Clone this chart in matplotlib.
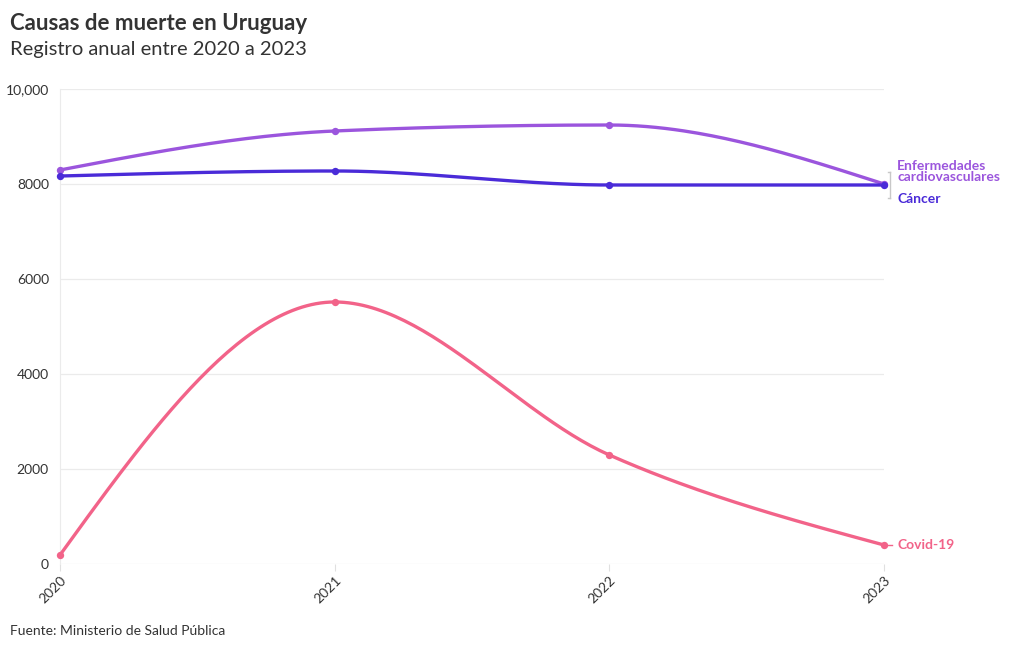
import numpy as np
import matplotlib
matplotlib.use("Agg")
import matplotlib.pyplot as plt

years = [2020, 2021, 2022, 2023]
cardio = [8295, 9116, 9242, 8000]
cancer = [8168, 8274, 7979, 7979]
covid = [189, 5516, 2295, 400]
series_names = ["Enfermedades\ncardiovasculares", "Cáncer", "Covid-19"]
colors = ["#9b55dd", "#4a2bd8", "#f26389"]
yticks = [0, 2000, 4000, 6000, 8000, 10000]
ytick_labels = ["0", "2000", "4000", "6000", "8000", "10,000"]

plt.rcParams['font.family'] = ['Lato', 'DejaVu Sans']
TXT = "#333333"


def monotone_x(x, y, n=60):
    x = np.asarray(x, float)
    y = np.asarray(y, float)
    m = len(x)
    h = np.diff(x)
    s = np.diff(y) / h
    t = np.zeros(m)
    for i in range(1, m - 1):
        h0, h1 = h[i - 1], h[i]
        s0, s1 = s[i - 1], s[i]
        p = (s0 * h1 + s1 * h0) / (h0 + h1)
        t[i] = (np.sign(s0) + np.sign(s1)) * min(abs(s0), abs(s1), 0.5 * abs(p))
    t[0] = (3 * s[0] - t[1]) / 2
    t[-1] = (3 * s[-1] - t[-2]) / 2
    xs, ys = [], []
    for i in range(m - 1):
        u = np.linspace(0, 1, n)
        dx = h[i]
        h00 = 2 * u**3 - 3 * u**2 + 1
        h10 = u**3 - 2 * u**2 + u
        h01 = -2 * u**3 + 3 * u**2
        h11 = u**3 - u**2
        yy = h00 * y[i] + h10 * dx * t[i] + h01 * y[i + 1] + h11 * dx * t[i + 1]
        xs.append(x[i] + u * dx)
        ys.append(yy)
    return np.concatenate(xs), np.concatenate(ys)


fig = plt.figure(figsize=(10.2, 6.5), dpi=100)
ax = fig.add_axes([60 / 1020, 1 - 564 / 650, (884 - 60) / 1020, (564 - 89) / 650])

for vals, c in zip([cardio, cancer, covid], colors):
    xs, ys = monotone_x(years, vals)
    ax.plot(xs, ys, color=c, lw=2.4, solid_capstyle='round', zorder=3, clip_on=False)
    ax.scatter(years, vals, color=c, s=28, zorder=4, linewidths=0, clip_on=False)

ax.set_xlim(2020, 2023)
ax.set_ylim(0, 10000)
ax.set_yticks(yticks)
ax.set_yticklabels(ytick_labels)
ax.set_xticks(years)
ax.set_xticklabels([str(y) for y in years], rotation=45, ha='right', rotation_mode='anchor')
ax.grid(axis='y', color='#ebebeb', lw=0.9)
ax.set_axisbelow(True)
for sp in ['top', 'right', 'bottom']:
    ax.spines[sp].set_visible(False)
ax.spines['left'].set_color('#ebebeb')
ax.tick_params(axis='y', length=0, pad=8, labelsize=10, labelcolor=TXT)
ax.tick_params(axis='x', length=5, color='#e0e0e0', pad=2, labelsize=10, labelcolor=TXT)

# End labels
ax.annotate(series_names[0], xy=(1, cardio[-1]), xycoords=('axes fraction', 'data'),
            xytext=(9.5, 9), textcoords='offset points', color=colors[0],
            fontsize=10, fontweight='bold', va='center', ha='left', linespacing=0.95,
            annotation_clip=False)
ax.annotate(series_names[1], xy=(1, cancer[-1]), xycoords=('axes fraction', 'data'),
            xytext=(9.5, -10), textcoords='offset points', color=colors[1],
            fontsize=10, fontweight='bold', va='center', ha='left', annotation_clip=False)
ax.annotate(series_names[2], xy=(1, covid[-1]), xycoords=('axes fraction', 'data'),
            xytext=(9.5, 0), textcoords='offset points', color=colors[2],
            fontsize=10, fontweight='bold', va='center', ha='left', annotation_clip=False)
# bracket and connector
fig.add_artist(plt.Line2D([890 / 1020, 890 / 1020], [1 - 172 / 650, 1 - 198 / 650],
                          color='#c8c8c8', lw=1))
fig.add_artist(plt.Line2D([888 / 1020, 890 / 1020], [1 - 172 / 650, 1 - 172 / 650],
                          color='#c8c8c8', lw=1))
fig.add_artist(plt.Line2D([888 / 1020, 890 / 1020], [1 - 198 / 650, 1 - 198 / 650],
                          color='#c8c8c8', lw=1))
fig.add_artist(plt.Line2D([888 / 1020, 892 / 1020], [1 - 545 / 650, 1 - 545 / 650],
                          color=colors[2], lw=1))

fig.text(10 / 1020, 1 - 23 / 650, "Causas de muerte en Uruguay", fontsize=16,
         fontweight='bold', color=TXT, va='center', ha='left')
fig.text(10 / 1020, 1 - 50 / 650, "Registro anual entre 2020 a 2023", fontsize=14.5,
         color=TXT, va='center', ha='left')
fig.text(10 / 1020, 1 - 631 / 650, "Fuente: Ministerio de Salud Pública", fontsize=10,
         color=TXT, va='center', ha='left')

fig.savefig("out.png", dpi=100, facecolor='white')
